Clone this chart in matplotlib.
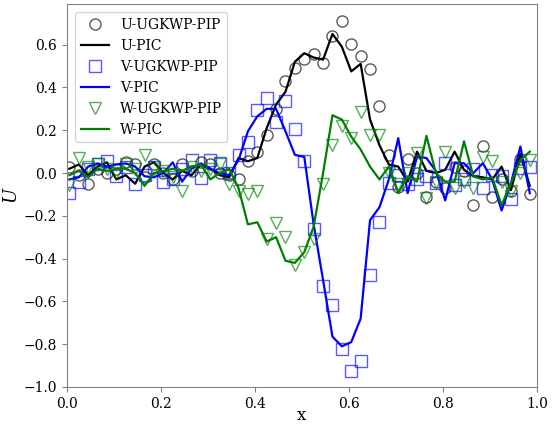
import matplotlib
matplotlib.use('Agg')
import matplotlib.pyplot as plt

plt.rcParams['font.family'] = 'DejaVu Serif'
plt.rcParams['mathtext.fontset'] = 'dejavuserif'

# cell centres
x = [0.005, 0.025, 0.045, 0.065, 0.085, 0.105, 0.125, 0.145, 0.165, 0.185,
     0.205, 0.225, 0.245, 0.265, 0.285, 0.305, 0.325, 0.345, 0.365, 0.385,
     0.405, 0.425, 0.445, 0.465, 0.485, 0.505, 0.525, 0.545, 0.565, 0.585,
     0.605, 0.625, 0.645, 0.665, 0.685, 0.705, 0.725, 0.745, 0.765, 0.785,
     0.805, 0.825, 0.845, 0.865, 0.885, 0.905, 0.925, 0.945, 0.965, 0.985]

u_pip = [0.03, -0.01, -0.05, 0.02, 0.0, 0.02, 0.05, 0.04, -0.02, 0.04,
         0.0, -0.03, 0.04, 0.01, 0.05, 0.04, 0.0, -0.01, -0.03, 0.055,
         0.10, 0.18, 0.30, 0.43, 0.49, 0.535, 0.556, 0.515, 0.64, 0.71,
         0.605, 0.545, 0.485, 0.315, 0.085, -0.066, 0.065, 0.0, -0.11, -0.04,
         -0.07, 0.03, 0.01, -0.15, 0.125, -0.11, -0.03, -0.086, 0.065, -0.1]
u_pic = [0.02, 0.04, -0.01, 0.03, 0.05, -0.03, -0.01, -0.05, 0.03, 0.05,
         0.0, -0.03, 0.01, -0.01, 0.04, 0.02, -0.01, -0.02, 0.07, 0.055,
         0.07, 0.21, 0.32, 0.38, 0.52, 0.56, 0.54, 0.53, 0.65, 0.59,
         0.475, 0.51, 0.25, 0.13, 0.04, 0.03, -0.04, 0.10, 0.01, 0.0,
         0.015, 0.10, 0.015, -0.015, -0.02, -0.03, 0.03, -0.08, 0.09, -0.06]

v_pip = [-0.094, -0.04, 0.02, 0.04, 0.055, -0.016, 0.03, -0.05, -0.01, 0.03,
         -0.04, -0.03, 0.02, 0.06, -0.024, 0.06, 0.046, 0.0, 0.085, 0.143,
         0.296, 0.35, 0.24, 0.335, 0.205, 0.054, -0.26, -0.53, -0.616, -0.824,
         -0.924, -0.88, -0.476, -0.23, -0.047, -0.008, -0.05, -0.03, -0.016, -0.047,
         0.046, -0.055, -0.03, 0.018, -0.07, -0.008, -0.016, -0.12, 0.025, 0.028]
v_pic = [-0.03, -0.02, 0.03, 0.045, 0.03, 0.04, 0.045, 0.03, -0.015, -0.02,
         0.0, 0.05, -0.04, 0.02, 0.045, 0.02, 0.0, -0.01, 0.06, 0.195,
         0.265, 0.30, 0.30, 0.195, 0.085, 0.075, -0.24, -0.5, -0.765, -0.81,
         -0.79, -0.68, -0.22, -0.16, -0.03, 0.163, -0.094, 0.077, 0.07, 0.01,
         -0.128, 0.046, 0.046, 0.0, 0.046, -0.03, -0.175, -0.047, 0.124, -0.094]

w_pip = [-0.055, 0.07, 0.03, 0.04, 0.02, 0.0, 0.04, 0.02, 0.085, 0.02,
         0.01, -0.02, -0.085, 0.03, 0.01, 0.02, 0.04, -0.05, -0.086, -0.10,
         -0.086, -0.31, -0.234, -0.30, -0.43, -0.367, -0.31, -0.05, 0.13, 0.22,
         0.163, 0.283, 0.18, 0.18, 0.0, -0.05, 0.0, 0.093, -0.117, -0.04,
         0.1, -0.07, -0.04, -0.07, 0.077, 0.054, -0.04, -0.086, 0.0, 0.06]
w_pic = [-0.01, 0.01, -0.02, 0.02, 0.01, 0.02, 0.02, 0.0, -0.06, 0.0,
         0.01, 0.02, 0.01, 0.03, 0.04, -0.03, 0.0, 0.02, -0.07, -0.24,
         -0.23, -0.32, -0.30, -0.41, -0.42, -0.37, -0.25, 0.0, 0.27, 0.25,
         0.17, 0.11, 0.03, -0.03, 0.03, -0.094, -0.016, -0.04, 0.174, 0.0,
         -0.04, -0.04, 0.148, -0.016, -0.03, -0.02, -0.15, -0.047, 0.06, 0.1]

fig = plt.figure(figsize=(5.54, 4.30), dpi=100)
ax = fig.add_axes([0.121, 0.1, 0.848, 0.8907])

mk = dict(linestyle='none', markerfacecolor='none', markersize=8, alpha=0.65)
ax.plot(x, u_pip, marker='o', markeredgecolor='k', label='U-UGKWP-PIP', **mk)
ax.plot(x, u_pic, color='k', lw=1.6, label='U-PIC')
ax.plot(x, v_pip, marker='s', markeredgecolor='b', label='V-UGKWP-PIP', **mk)
ax.plot(x, v_pic, color='b', lw=1.6, label='V-PIC')
ax.plot(x, w_pip, marker='v', markeredgecolor='g', label='W-UGKWP-PIP', **mk)
ax.plot(x, w_pic, color='g', lw=1.6, label='W-PIC')

ax.set_xlim(0, 1)
ax.set_ylim(-1.0, 0.79)
ax.set_xticks([0, 0.2, 0.4, 0.6, 0.8, 1.0])
ax.set_yticks([-1.0, -0.8, -0.6, -0.4, -0.2, 0.0, 0.2, 0.4, 0.6])
ax.tick_params(labelsize=10, color='gray')
for s in ax.spines.values():
    s.set_color('gray')
ax.set_xlabel('x', fontsize=12, labelpad=-3)
ax.set_ylabel('$U$', fontsize=13, labelpad=2)
ax.legend(loc='upper left', fontsize=10, borderaxespad=0.6)

fig.savefig('out.png', dpi=100)
